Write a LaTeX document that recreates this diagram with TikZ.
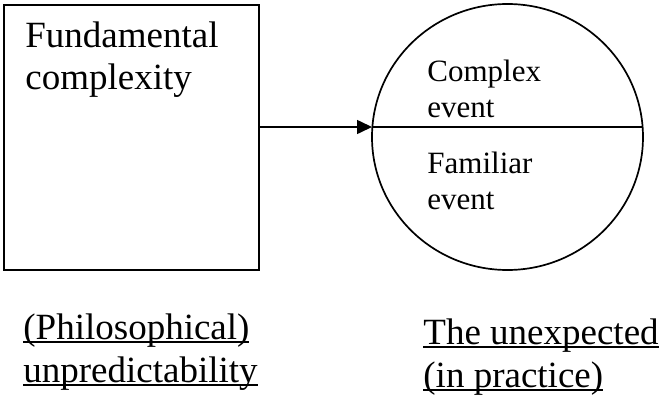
\documentclass[tikz,border=0pt]{standalone}
\usepackage{fontspec}
\setmainfont{Liberation Serif}
\usetikzlibrary{arrows.meta,shapes.geometric}
\newsavebox{\ulbox}
\newcommand{\ulined}[1]{\sbox{\ulbox}{#1}\rlap{\rule[-2pt]{\wd\ulbox}{0.9pt}}\usebox{\ulbox}}

\begin{document}
\begin{tikzpicture}[x=0.5pt,y=-0.5pt,
		bigtext/.style={font=\fontsize{18.5}{21}\selectfont, align=left, inner sep=0pt, anchor=base west},
		smalltext/.style={font=\fontsize{15.5}{18}\selectfont, align=left, inner sep=0pt, anchor=base west},
		undertext/.style={font=\fontsize{18.5}{21.5}\selectfont, align=left, inner sep=0pt, anchor=base west}]
	\useasboundingbox (0,0) rectangle (660,396);
	% the two shapes
	\node[draw, line width=1.3pt, outer sep=0pt, minimum width=127.5pt, minimum height=132.5pt] (fund) at (131.5,137.5) {};
	\node[draw, ellipse, line width=0.85pt, outer sep=0pt, minimum width=135.5pt, minimum height=133pt] (event) at (507.5,137) {};
	\coordinate (split w) at ([yshift=5pt]event.west);
	\coordinate (split e) at ([yshift=5pt]event.east);
	\draw[line width=0.8pt] (split w) -- (split e);
	\draw[line width=0.8pt, -{Triangle[length=7.5pt,width=7pt]}] (fund.east |- split w) -- (split w);
	% texts (base = last line)
	\node[bigtext] (fundtext) at (25,90) {Fundamental\\complexity};
	\node[smalltext] (complextext) at (427,118) {Complex\\event};
	\node[smalltext] (familiartext) at (427,209) {Familiar\\event};
	\node[undertext] (philtext) at (23,382) {\ulined{(Philosophical)}\\\ulined{unpredictability}};
	\node[undertext] (practext) at (423,387) {\ulined{The unexpected}\\\ulined{(in practice)}};
\end{tikzpicture}
\end{document}
